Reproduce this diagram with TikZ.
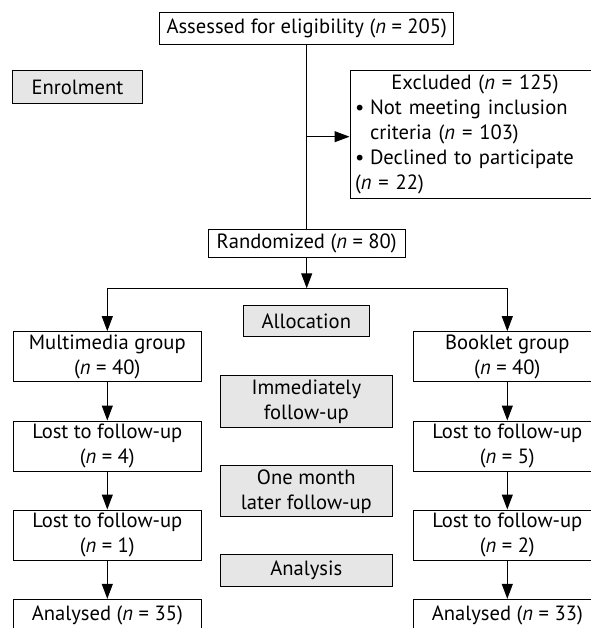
\documentclass[tikz,border=0pt]{standalone}
\usepackage{fontspec}
\setmainfont{PT Sans}
\usetikzlibrary{arrows.meta}
\definecolor{gfill}{RGB}{230,230,230}
\begin{document}
\begin{tikzpicture}[x=1pt,y=1pt,
  font=\fontsize{20.6}{25}\selectfont,
  box/.style={draw, line width=1pt, rectangle, inner sep=0pt, align=center},
  wbox/.style={box, fill=white},
  gbox/.style={box, fill=gfill},
  ln/.style={line width=1pt},
  arr/.style={-{Triangle[length=15pt,width=11pt]}}]
\useasboundingbox (0,0) rectangle (590,-628);
% top part
\node[wbox, minimum width=294.3pt, minimum height=31.7pt] (assess) at (306.7,-28.2) {Assessed for eligibility (\textit{n} = 205)};
\node[gbox, minimum width=130.4pt, minimum height=32.6pt] (enrol) at (77.5,-87) {Enrolment};
\node[wbox, draw, inner xsep=5pt, inner ysep=0pt, text width=240pt, align=left, minimum height=127.6pt] (excl) at (475,-134.5)
  {\makebox[240pt][c]{Excluded (\textit{n} = 125)}\\
   \makebox[15pt][l]{\textbullet}Not meeting inclusion\\
   \hspace*{15pt}criteria (\textit{n} = 103)\\
   \makebox[15pt][l]{\textbullet}Declined to participate\\
   (\textit{n} = 22)};
\node[wbox, minimum width=196.7pt, minimum height=28.2pt] (rand) at (306.7,-243.4) {Randomized (\textit{n} = 80)};
% centre labels
\node[gbox, minimum width=126pt, minimum height=30.7pt] (alloc) at (306.3,-321.3) {Allocation};
\node[gbox, minimum width=172.5pt, minimum height=51.3pt] (immed) at (306.3,-401.6) {Immediately\\follow-up};
\node[gbox, minimum width=172.5pt, minimum height=50.7pt] (month) at (306.3,-491.3) {One month\\later follow-up};
\node[gbox, minimum width=172.5pt, minimum height=31.7pt] (analysis) at (306.3,-570.2) {Analysis};
% left column
\node[wbox, minimum width=188pt, minimum height=50.3pt] (multi) at (107.3,-356.8) {Multimedia group\\(\textit{n} = 40)};
\node[wbox, minimum width=188pt, minimum height=50pt] (lostLa) at (107.3,-446) {Lost to follow-up\\(\textit{n} = 4)};
\node[wbox, minimum width=188pt, minimum height=50pt] (lostLb) at (107.3,-535) {Lost to follow-up\\(\textit{n} = 1)};
\node[wbox, minimum width=188pt, minimum height=31.7pt] (analL) at (107.3,-615.2) {Analysed (\textit{n} = 35)};
% right column
\node[wbox, minimum width=188pt, minimum height=50.3pt] (book) at (507.3,-356.8) {Booklet group\\(\textit{n} = 40)};
\node[wbox, minimum width=188pt, minimum height=50pt] (lostRa) at (507.3,-446) {Lost to follow-up\\(\textit{n} = 5)};
\node[wbox, minimum width=188pt, minimum height=50pt] (lostRb) at (507.3,-535) {Lost to follow-up\\(\textit{n} = 2)};
\node[wbox, minimum width=188pt, minimum height=31.7pt] (analR) at (507.3,-615.2) {Analysed (\textit{n} = 33)};
% connectors
\coordinate (bj) at (306.7,-136.7);
\coordinate (split) at (306.7,-288.3);
\draw[ln] (assess.south) -- (rand.north);
\draw[ln,arr] (bj) -- (bj -| excl.west);
\draw[ln,arr] (rand.south) -- (split);
\draw[ln,arr] (split) -| (multi.north);
\draw[ln,arr] (split) -| (book.north);
\draw[ln,arr] (multi.south) -- (lostLa.north);
\draw[ln,arr] (lostLa.south) -- (lostLb.north);
\draw[ln,arr] (lostLb.south) -- (analL.north);
\draw[ln,arr] (book.south) -- (lostRa.north);
\draw[ln,arr] (lostRa.south) -- (lostRb.north);
\draw[ln,arr] (lostRb.south) -- (analR.north);
\end{tikzpicture}
\end{document}
